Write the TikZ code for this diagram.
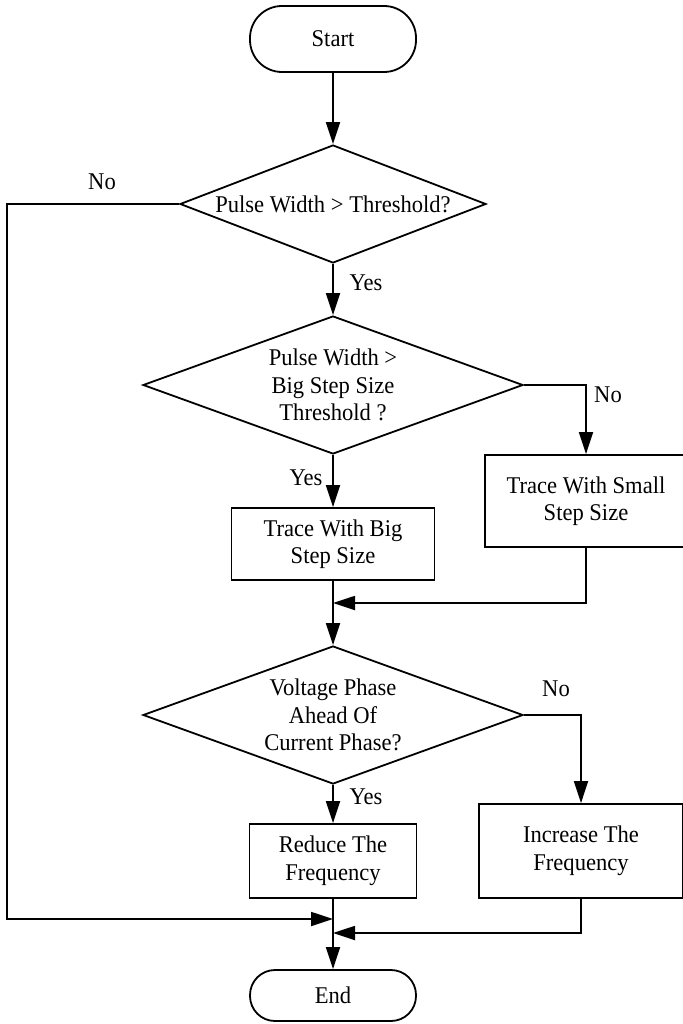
\documentclass[tikz,border=0pt]{standalone}
\usepackage{fontspec}
\setmainfont{Liberation Serif}[FakeStretch=0.94]
\usetikzlibrary{shapes.geometric,arrows.meta}
\begin{document}
\begin{tikzpicture}[x=1pt,y=-1pt,
  line width=1.8pt,
  every node/.style={font=\fontsize{24}{27.5}\selectfont},
  terminal/.style={draw,rectangle,rounded corners=#1,inner sep=0pt},
  decision/.style={draw,diamond,inner sep=0pt,align=center},
  process/.style={draw,rectangle,inner sep=0pt,align=center},
  flow/.style={-{Triangle[length=22pt,width=14pt]}},
  lbl/.style={inner sep=0pt}]
\useasboundingbox (0,0) rectangle (682,1024);

% shapes
\node[terminal=32pt,minimum width=166pt,minimum height=66pt] (start) at (333,39) {Start};
\node[decision,aspect=2.6,minimum width=306pt,minimum height=118pt] (d1) at (333,204) {Pulse Width > Threshold?};
\node[decision,aspect=2.7,minimum width=380pt,minimum height=138pt] (d2) at (333,385) {Pulse Width >\\Big Step Size\\Threshold ?};
\node[process,minimum width=203pt,minimum height=72pt] (big) at (333,544) {Trace With Big\\Step Size};
\node[process,minimum width=202pt,minimum height=92pt] (small) at (586,501) {Trace With Small\\Step Size};
\node[decision,aspect=2.7,minimum width=380pt,minimum height=138pt] (d3) at (333,715) {Voltage Phase\\Ahead Of\\Current Phase?};
\node[process,minimum width=167pt,minimum height=74pt] (reduce) at (333,861) {Reduce The\\Frequency};
\node[process,minimum width=204pt,minimum height=94pt] (increase) at (581,851) {Increase The\\Frequency};
\node[terminal=25pt,minimum width=166pt,minimum height=51pt] (end) at (333,995.5) {End};

% junction points on the main trunk
\coordinate (m1) at (333,603);
\coordinate (m2) at (333,919);
\coordinate (m3) at (333,933);
\coordinate (leftrail) at (7,204);

% connectors
\draw[flow] (start) -- (d1);
\draw[flow] (d1) -- (d2);
\draw[flow] (d2) -- (big);
\draw[flow] (d2.east) -| (small.north);
\draw (big.south) -- (m1);
\draw[flow] (small.south) |- (m1);
\draw[flow] (m1) -- (d3.north);
\draw[flow] (d3) -- (reduce);
\draw[flow] (d3.east) -| (increase.north);
\draw[flow] (d1.west) -- (leftrail) |- (m2);
\draw[flow] (increase.south) |- (m3);
\draw[flow] (reduce.south) -- (end.north);

% branch labels
\node[lbl] (no1) at (102,182) {No};
\node[lbl] (yes1) at (366,283) {Yes};
\node[lbl] (no2) at (608,395) {No};
\node[lbl] (yes2) at (306,478) {Yes};
\node[lbl] (no3) at (556,689) {No};
\node[lbl] (yes3) at (366,797) {Yes};
\end{tikzpicture}
\end{document}
